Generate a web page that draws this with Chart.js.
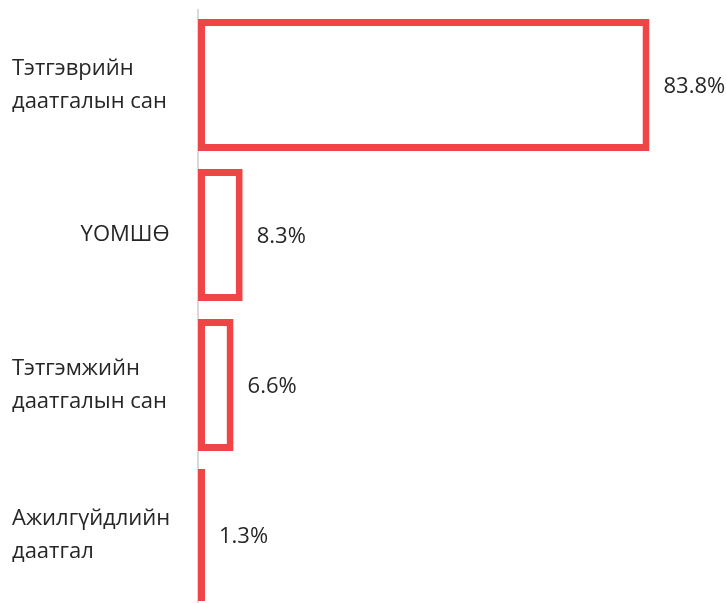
<!DOCTYPE html>
<html>
<head>
<meta charset="utf-8">
<script src="https://cdn.jsdelivr.net/npm/chart.js@4"></script>
<style>
  html, body { margin: 0; padding: 0; background: #fff; overflow: hidden; }
  #wrap { width: 726px; height: 612px; }
</style>
</head>
<body>
<div id="wrap"><canvas id="fundChart"></canvas></div>
<script>
// === Data
const categories = [
  ["Тэтгэврийн", "даатгалын сан"],
  "            ҮОМШӨ",
  ["Тэтгэмжийн", "даатгалын сан"],
  ["Ажилгүйдлийн", "даатгал"]
];
const shares = [83.8, 8.3, 6.6, 1.3];

const RED = "#ef4547";
const TEXT = "#262626";
const FONT = "'Open Sans', 'Noto Sans', sans-serif";

// === Value labels to the right of each bar
const valueLabels = {
  id: "valueLabels",
  afterDatasetsDraw(chart) {
    const ctx = chart.ctx;
    const meta = chart.getDatasetMeta(0);
    ctx.save();
    ctx.font = "22px " + FONT;
    ctx.fillStyle = TEXT;
    ctx.textAlign = "left";
    ctx.textBaseline = "middle";
    meta.data.forEach((bar, i) => {
      ctx.fillText(shares[i].toFixed(1) + "%", bar.x + 14, bar.y + 2);
    });
    ctx.restore();
  }
};

document.addEventListener("DOMContentLoaded", () => {
  const ctx = document.getElementById("fundChart").getContext("2d");
  new Chart(ctx, {
    type: "bar",
    data: {
      labels: categories,
      datasets: [{
        data: shares,
        backgroundColor: "#ffffff",
        borderColor: RED,
        borderWidth: 7,
        borderSkipped: false,
        categoryPercentage: 0.88,
        barPercentage: 1
      }]
    },
    options: {
      indexAxis: "y",
      responsive: true,
      maintainAspectRatio: false,
      animation: false,
      layout: { padding: { left: 12, top: 10, right: 0, bottom: 2 } },
      plugins: { legend: { display: false }, tooltip: { enabled: false } },
      scales: {
        x: { display: false, min: 0, max: 98 },
        y: {
          // fixed label column, no extra room for the multi-line first/last labels
          afterFit: scale => {
            scale.width = 186;
            scale.paddingTop = 0;
            scale.paddingBottom = 0;
          },
          grid: { display: false, drawTicks: false },
          border: { display: true, color: "#d9d9d9", width: 2 },
          ticks: {
            autoSkip: false,
            crossAlign: "far",
            color: TEXT,
            font: { family: FONT, size: 22, lineHeight: 1.5 }
          }
        }
      }
    },
    plugins: [valueLabels]
  });
});
</script>
</body>
</html>
